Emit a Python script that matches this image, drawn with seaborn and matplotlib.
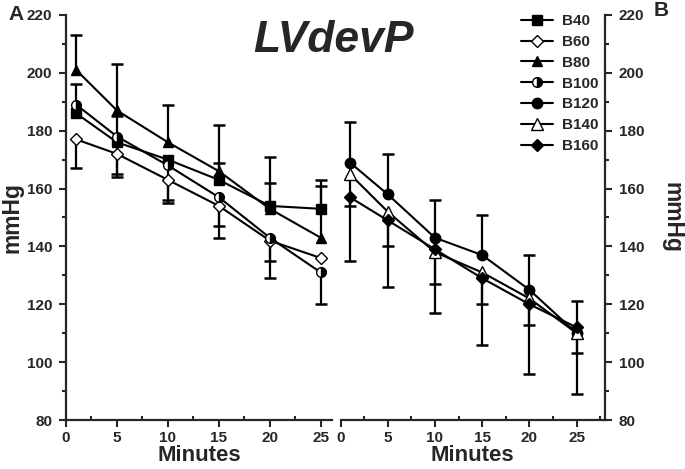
import numpy as np
import seaborn as sns
import matplotlib.pyplot as plt
from matplotlib.ticker import MultipleLocator

# time points (minutes)
minutes = [1, 5, 10, 15, 20, 25]

# panel A series (mmHg)
b40 = [186, 176, 170, 163, 154, 153]
b60 = [177, 172, 163, 154, 142, 136]
b80 = [201, 187, 176, 166, 153, 143]
b100 = [189, 178, 168, 157, 143, 131]

# panel B series (mmHg)
b120 = [169, 158, 143, 137, 125, 110]
b140 = [165, 152, 138, 131, 122, 110]
b160 = [157, 149, 139, 129, 120, 112]

# one-sided error bars as drawn (upper, lower)
b40_up = [10, 9, 0, 6, 8, 10]
b40_lo = [0, 11, 14, 0, 0, 0]
b60_up = [0, 0, 0, 0, 0, 0]
b60_lo = [10, 8, 8, 7, 7, 0]
b80_up = [12, 16, 13, 16, 18, 18]
b80_lo = [0, 0, 0, 0, 0, 0]
b100_up = [0, 0, 0, 0, 0, 0]
b100_lo = [0, 0, 0, 14, 14, 11]
b120_up = [14, 14, 13, 14, 12, 11]
b120_lo = [0, 0, 0, 0, 0, 0]
b140_up = [0, 0, 0, 0, 0, 0]
b140_lo = [11, 12, 11, 11, 9, 7]
b160_up = [0, 0, 0, 0, 0, 0]
b160_lo = [22, 23, 22, 23, 24, 23]

sns.set_style('ticks')
plt.rcParams['font.family'] = ['Liberation Sans', 'DejaVu Sans']
plt.rcParams['font.weight'] = 'bold'
plt.rcParams['axes.labelweight'] = 'bold'

fig = plt.figure(figsize=(6.85, 4.69), dpi=100)
axA = fig.add_axes([66 / 685, 1 - 420 / 469, 266 / 685, 405 / 469])
axB = fig.add_axes([340.5 / 685, 1 - 420 / 469, 264.5 / 685, 405 / 469])


def draw(ax, y, up, lo, label, marker, ms, face, alt=None, fill='full'):
    y = np.array(y, float)
    up = np.array(up, float)
    lo = np.array(lo, float)
    x = np.array(minutes, float)
    # error bars under the markers
    ax.errorbar(x, y, yerr=[lo, up], fmt='none', ecolor='black', elinewidth=1.6,
                capsize=0, zorder=2)
    m = up > 0
    ax.plot(x[m], (y + up)[m], ls='', marker='_', ms=9, mew=1.8, color='black', zorder=2)
    m = lo > 0
    ax.plot(x[m], (y - lo)[m], ls='', marker='_', ms=9, mew=1.8, color='black', zorder=2)
    kws = dict(marker=marker, markersize=ms, markerfacecolor=face, markeredgecolor='black',
               markeredgewidth=1.0, fillstyle=fill)
    if alt is not None:
        kws['markerfacecoloralt'] = alt
    sns.lineplot(x=minutes, y=y, ax=ax, color='black', linewidth=1.5, errorbar=None,
                 legend=False, label=label, zorder=3, **kws)


draw(axA, b40, b40_up, b40_lo, 'B40', 's', 6.5, 'black')
draw(axA, b60, b60_up, b60_lo, 'B60', 'D', 6, 'white')
draw(axA, b80, b80_up, b80_lo, 'B80', '^', 7.5, 'black')
draw(axA, b100, b100_up, b100_lo, 'B100', 'o', 7, 'black', alt='white', fill='right')
draw(axB, b120, b120_up, b120_lo, 'B120', 'o', 7.5, 'black')
draw(axB, b140, b140_up, b140_lo, 'B140', '^', 8, 'white')
draw(axB, b160, b160_up, b160_lo, 'B160', 'D', 6.5, 'black')

for ax in (axA, axB):
    ax.set_ylim(80, 220)
    ax.yaxis.set_major_locator(MultipleLocator(20))
    ax.yaxis.set_minor_locator(MultipleLocator(10))
    ax.xaxis.set_major_locator(MultipleLocator(5))
    ax.xaxis.set_minor_locator(MultipleLocator(2.5))
    ax.tick_params(axis='both', which='major', width=1.5, labelsize=11, pad=5)
    ax.tick_params(axis='x', which='major', length=5, direction='out', pad=3)
    ax.tick_params(axis='x', which='minor', length=3, width=1.5, direction='in')
    ax.tick_params(axis='y', which='major', length=5, direction='out')
    ax.tick_params(axis='y', which='minor', length=3, width=1.5, direction='out')
    ax.spines['top'].set_visible(False)
    for s in ax.spines.values():
        s.set_linewidth(1.6)
    ax.set_xlabel('Minutes', fontsize=16, fontweight='bold', labelpad=0)
    for t in ax.get_xticklabels() + ax.get_yticklabels():
        t.set_fontweight('bold')

axA.set_xlim(0, 26.1)
axA.spines['right'].set_visible(False)
axA.set_ylabel('mmHg', fontsize=16.5, fontweight='bold', labelpad=2)

axB.set_xlim(0, 28)
axB.spines['left'].set_visible(False)
axB.yaxis.tick_right()
axB.yaxis.set_label_position('right')
axB.set_ylabel('mmHg', fontsize=16.5, fontweight='bold', rotation=270, labelpad=28)

fig.text(333 / 685, 1 - 40 / 469, 'LVdevP', fontsize=32, fontweight='bold',
         fontstyle='italic', ha='center', va='center')
fig.text(16 / 685, 1 - 14 / 469, 'A', fontsize=15, fontweight='bold', ha='center', va='center')
fig.text(661 / 685, 1 - 11 / 469, 'B', fontsize=15, fontweight='bold', ha='center', va='center')

hA, lA = axA.get_legend_handles_labels()
hB, lB = axB.get_legend_handles_labels()
fig.legend(hA + hB, lA + lB, loc='upper left', bbox_to_anchor=(521 / 685, 1 - 14 / 469),
           frameon=False, prop={'weight': 'bold', 'size': 11},
           handlelength=2.1, handletextpad=0.6, labelspacing=0.45,
           borderpad=0, borderaxespad=0)

fig.savefig('out.png', dpi=100)
